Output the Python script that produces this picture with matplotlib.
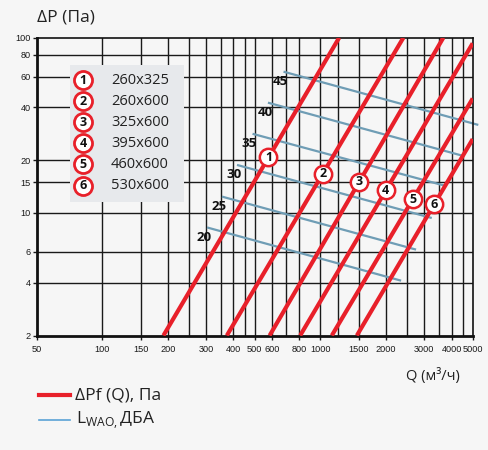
import numpy as np
import matplotlib
matplotlib.use('Agg')
import matplotlib.pyplot as plt
from matplotlib.patches import Rectangle

# --- data ---
# fan curves: (Q, dP) at start and end of each red line
sizes = ['260x325', '260x600', '325x600', '395x600', '460x600', '530x600']
curve_q0 = [191, 373, 586, 809, 1130, 1472]
curve_p0 = [2, 2, 2, 2, 2, 2]
curve_q1 = [1221, 2405, 3667, 5000, 5000, 5000]
curve_p1 = [100, 100, 100, 92.9, 45, 26.4]
# where the numbered circles sit on each curve (Q)
marker_q = [579, 1028, 1512, 1998, 2656, 3334]

# noise level lines L_WAO (dBA)
noise_levels = [20, 25, 30, 35, 40, 45]
noise_q0 = [302.6, 354.4, 415.2, 489.3, 575.6, 678.6]
noise_p0 = [8.27, 12.4, 18.8, 28.3, 42.6, 64.0]
noise_q1 = [2348, 2750, 3245, 3734, 4500, 5305]
noise_p1 = [4.11, 6.18, 9.36, 14.3, 21.2, 31.8]

x_ticks = [50, 100, 150, 200, 300, 400, 500, 600, 800, 1000, 1500, 2000, 3000, 4000, 5000]
x_grid = [100, 150, 200, 250, 300, 350, 400, 450, 500, 600, 700, 800, 1000, 1200,
          1500, 2000, 2500, 3000, 3500, 4000, 4500]
y_ticks = [2, 4, 6, 10, 15, 20, 40, 60, 80, 100]

red = '#e8202a'
blue = '#6f9db5'
bg = '#f6f6f6'

plt.rcParams['font.family'] = ['Open Sans', 'DejaVu Sans']

fig = plt.figure(figsize=(4.88, 4.5), dpi=100, facecolor=bg)
W, H = 488, 450
x0, x1, yb, yt = 36.5, 472.7, 335.5, 37.7
ax = fig.add_axes([x0 / W, (H - yb) / H, (x1 - x0) / W, (yb - yt) / H])
ax.set_facecolor(bg)
ax.set_xscale('log')
ax.set_yscale('log')
ax.set_xlim(50, 5000)
ax.set_ylim(2, 100)

# grid
for g in x_grid:
    ax.axvline(g, color='#1a1a1a', lw=1.0, zorder=1)
for g in y_ticks[1:-1]:
    ax.axhline(g, color='#1a1a1a', lw=1.0, zorder=1)

ax.set_xticks(x_ticks)
ax.set_xticklabels([str(t) for t in x_ticks])
ax.set_yticks(y_ticks)
ax.set_yticklabels([str(t) for t in y_ticks])
ax.xaxis.set_minor_locator(matplotlib.ticker.NullLocator())
ax.yaxis.set_minor_locator(matplotlib.ticker.NullLocator())
tick_fp = matplotlib.font_manager.FontProperties(family=['Liberation Sans', 'DejaVu Sans'],
                                                 size=6.6)
for lab in ax.get_xticklabels() + ax.get_yticklabels():
    lab.set_fontproperties(tick_fp)
    lab.set_color('#1a1a1a')
ax.tick_params(axis='both', length=3, width=1, color='#1a1a1a')
ax.tick_params(axis='x', pad=4)
ax.tick_params(axis='y', pad=1)

for s in ['left', 'bottom']:
    ax.spines[s].set_linewidth(2)
for s in ['top', 'right']:
    ax.spines[s].set_linewidth(1.2)
for s in ax.spines.values():
    s.set_color('#111111')

# noise lines
for lv, qa, pa, qb, pb in zip(noise_levels, noise_q0, noise_p0, noise_q1, noise_p1):
    ax.plot([qa, qb], [pa, pb], color=blue, lw=1.6, zorder=2, clip_on=False,
            solid_capstyle='butt')
    ax.annotate(str(lv), (qa, pa), xytext=(-3, -10), textcoords='offset pixels',
                ha='center', va='center', fontsize=9.5, fontweight='bold',
                color='#111111', zorder=3)

# fan curves
for i in range(len(sizes)):
    qa, pa, qb, pb = curve_q0[i], curve_p0[i], curve_q1[i], curve_p1[i]
    ax.plot([qa, qb], [pa, pb], color=red, lw=3.0, zorder=4, solid_capstyle='butt')
    k = np.log(pb / pa) / np.log(qb / qa)
    mp = pa * (marker_q[i] / qa) ** k
    ax.plot(marker_q[i], mp, 'o', ms=12.5, mfc='white', mec=red, mew=1.8, zorder=5)
    ax.text(marker_q[i], mp, str(i + 1), ha='center', va='center', fontsize=9,
            fontweight='bold', color='#111111', zorder=6)

# size legend box
bx0, bx1 = (70 - x0) / (x1 - x0), (184 - x0) / (x1 - x0)
by0, by1 = (yb - 201.7) / (yb - yt), (yb - 65) / (yb - yt)
ax.add_patch(Rectangle((bx0, by0), bx1 - bx0, by1 - by0, transform=ax.transAxes,
                       facecolor='#e7e9ec', edgecolor='none', zorder=3))
for i, name in enumerate(sizes):
    ypx = 80 + i * 21.1
    ya = (yb - ypx) / (yb - yt)
    xa = (83.3 - x0) / (x1 - x0)
    ax.plot(xa, ya, 'o', transform=ax.transAxes, ms=13, mfc='white', mec=red, mew=2,
            zorder=5, clip_on=False)
    ax.text(xa, ya, str(i + 1), transform=ax.transAxes, ha='center', va='center',
            fontsize=9, fontweight='bold', color='#111111', zorder=6)
    ax.text((111 - x0) / (x1 - x0), ya, name, transform=ax.transAxes, ha='left',
            va='center', fontsize=10.5, color='#222222', zorder=6)

# axis titles
fig.text(36.7 / W, 1 - 17.5 / H, 'ΔP (Па)', ha='left', va='center', fontsize=12.5,
         color='#222222')
fig.text(459.5 / W, 1 - 376 / H, 'Q (м³/ч)', ha='right', va='center', fontsize=10.5,
         color='#222222')

# bottom legend
fig.add_artist(plt.Line2D([39.3 / W, 70 / W], [1 - 394.5 / H, 1 - 394.5 / H],
                          color=red, lw=3.0))
fig.text(75 / W, 1 - 395 / H, 'ΔPf (Q), Па', ha='left', va='center', fontsize=12.5,
         color='#222222')
fig.add_artist(plt.Line2D([39.3 / W, 70 / W], [1 - 420 / H, 1 - 420 / H],
                          color='#5aa3d6', lw=1.2))
fig.text(76 / W, 1 - 420 / H, r'L$_{\mathregular{WAO,}}$ДБА', ha='left', va='center',
         fontsize=12.5, color='#222222')

fig.savefig('out.png', dpi=100, facecolor=bg)
